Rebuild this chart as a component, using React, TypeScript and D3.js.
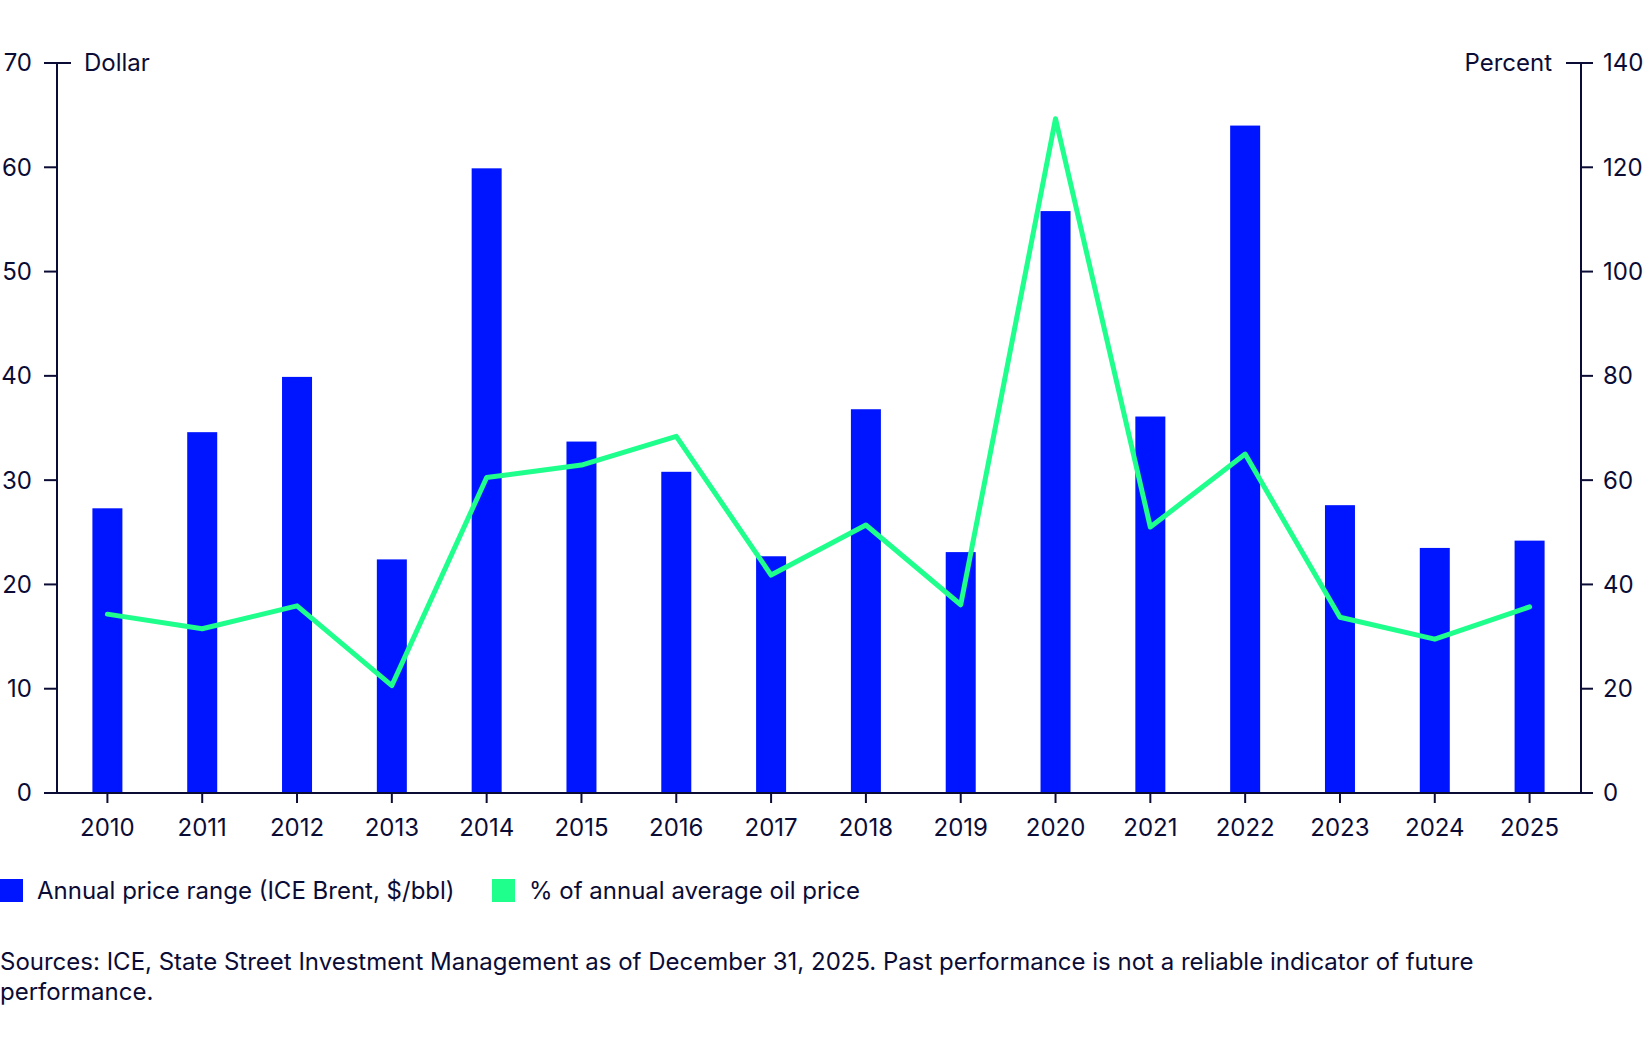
import React from "react";
import * as d3 from "d3";

const years = ["2010","2011","2012","2013","2014","2015","2016","2017","2018","2019","2020","2021","2022","2023","2024","2025"];
const priceRange = [27.3,34.6,39.9,22.4,59.9,33.7,30.8,22.7,36.8,23.1,55.8,36.1,64.0,27.6,23.5,24.2];
const pctOfAvg = [34.3,31.5,35.9,20.6,60.5,62.9,68.4,41.8,51.4,36.1,129.3,51.0,65.0,33.7,29.5,35.7];
const leftTicks = [0,10,20,30,40,50,60,70];
const rightTicks = [0,20,40,60,80,100,120,140];
const legendLabels = ["Annual price range (ICE Brent, $/bbl)", "% of annual average oil price"];
const sourceLines = [
  "Sources: ICE, State Street Investment Management as of December 31, 2025. Past performance is not a reliable indicator of future",
  "performance.",
];

const W = 1648, H = 1048;
const BLUE = "#0015ff";
const GREEN = "#1eff8c";
const INK = "#0b0c36";
const FONT = "Inter, 'Noto Sans', sans-serif";
const FS = 24;

export default function App() {
  const left = 57, right = 1581, top = 63, bottom = 793;
  const yL = d3.scaleLinear().domain([0, 70]).range([bottom, top]);
  const yR = d3.scaleLinear().domain([0, 140]).range([bottom, top]);
  const x = d3.scalePoint<string>().domain(years).range([60, 1577]).padding(0.5);
  const barW = 30;
  const line = d3.line<number>()
    .x((_, i) => x(years[i]) as number)
    .y((d) => yR(d));

  return (
    <svg width={W} height={H} style={{ position: "absolute", left: 0, top: 0, background: "#fff" }} fontFamily={FONT}>
      {priceRange.map((v, i) => (
        <rect key={years[i]} x={(x(years[i]) as number) - barW / 2} y={yL(v)} width={barW} height={yL(0) - yL(v)} fill={BLUE} />
      ))}
      <path d={line(pctOfAvg) || ""} fill="none" stroke={GREEN} strokeWidth={5} strokeLinejoin="round" strokeLinecap="round" />

      <line x1={left} x2={left} y1={yL(70)} y2={yL(0)} stroke={INK} strokeWidth={2} />
      {leftTicks.map((t) => (
        <g key={"l" + t}>
          <line x1={44} x2={t === 70 ? 71 : left} y1={yL(t)} y2={yL(t)} stroke={INK} strokeWidth={2} />
          <text x={32} y={yL(t)} dy="0.35em" textAnchor="end" fontSize={FS} fill={INK}>{t}</text>
        </g>
      ))}
      <text x={84} y={yL(70)} dy="0.35em" fontSize={FS} fill={INK}>Dollar</text>

      <line x1={right} x2={right} y1={yR(140)} y2={yR(0)} stroke={INK} strokeWidth={2} />
      {rightTicks.map((t) => (
        <g key={"r" + t}>
          <line x1={t === 140 ? 1566 : right} x2={1593} y1={yR(t)} y2={yR(t)} stroke={INK} strokeWidth={2} />
          <text x={1603} y={yR(t)} dy="0.35em" textAnchor="start" fontSize={FS} fill={INK}>{t}</text>
        </g>
      ))}
      <text x={1552} y={yR(140)} dy="0.35em" textAnchor="end" fontSize={FS} fill={INK}>Percent</text>

      <line x1={44} x2={1593} y1={yL(0)} y2={yL(0)} stroke={INK} strokeWidth={2} />
      {years.map((yr) => (
        <g key={"x" + yr}>
          <line x1={x(yr)} x2={x(yr)} y1={bottom} y2={bottom + 10} stroke={INK} strokeWidth={2} />
          <text x={x(yr)} y={836} textAnchor="middle" fontSize={FS} fill={INK}>{yr}</text>
        </g>
      ))}

      <rect x={0} y={879} width={23} height={23} fill={BLUE} />
      <text x={37} y={899} fontSize={FS} fill={INK}>{legendLabels[0]}</text>
      <rect x={492} y={879} width={23} height={23} fill={GREEN} />
      <text x={529} y={899} fontSize={FS} fill={INK}>{legendLabels[1]}</text>

      {sourceLines.map((s, i) => (
        <text key={i} x={0} y={970 + i * 29.5} fontSize={FS} fill={INK}>{s}</text>
      ))}
    </svg>
  );
}
